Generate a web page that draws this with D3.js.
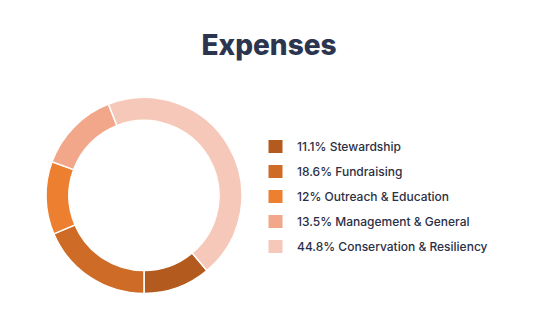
<!DOCTYPE html>
<html>
<head>
<meta charset="utf-8">
<script src="https://cdn.jsdelivr.net/npm/d3@7"></script>
<style>
  html, body { margin: 0; padding: 0; background: #ffffff; }
  svg { display: block; }
</style>
</head>
<body>
<svg id="chart" width="549" height="324"></svg>
<script>
// Expense breakdown (percent of total)
const categories = ["Stewardship", "Fundraising", "Outreach & Education", "Management & General", "Conservation & Resiliency"];
const values = [11.1, 18.6, 12, 13.5, 44.8];
const valueLabels = ["11.1%", "18.6%", "12%", "13.5%", "44.8%"];
const colors = ["#b35b1f", "#cd6b27", "#ec7f30", "#f2a68a", "#f6c8b9"];

const svg = d3.select("#chart");

svg.append("text")
  .attr("x", 269)
  .attr("y", 55)
  .attr("text-anchor", "middle")
  .attr("font-family", "Inter, 'Open Sans', sans-serif")
  .attr("font-weight", 800)
  .attr("font-size", 28)
  .attr("fill", "#2c3550")
  .text("Expenses");

const cx = 144, cy = 195.5, outerR = 98, innerR = 75;

// Slices run clockwise; the first one ends at six o'clock
const total = d3.sum(values);
const start = Math.PI - (values[0] / total) * 2 * Math.PI;
const pie = d3.pie().sort(null).startAngle(start).endAngle(start + 2 * Math.PI);
const arc = d3.arc().innerRadius(innerR).outerRadius(outerR);

const g = svg.append("g").attr("transform", `translate(${cx},${cy})`);
g.selectAll("path")
  .data(pie(values))
  .join("path")
  .attr("d", arc)
  .attr("fill", (d, i) => colors[i])
  .attr("stroke", "#ffffff")
  .attr("stroke-width", 1.5);

// Legend
const y = d3.scalePoint().domain(d3.range(categories.length)).range([146.5, 246.5]);
const legend = svg.append("g");
const rows = legend.selectAll("g")
  .data(categories)
  .join("g")
  .attr("transform", (d, i) => `translate(0,${y(i)})`);

rows.append("rect")
  .attr("x", 268.5)
  .attr("y", -6.5)
  .attr("width", 14)
  .attr("height", 13)
  .attr("fill", (d, i) => colors[i]);

rows.append("text")
  .attr("x", 297)
  .attr("y", 4.2)
  .attr("font-family", "Inter, 'Open Sans', sans-serif")
  .attr("font-weight", 500)
  .attr("font-size", 12)
  .attr("fill", "#2b2f45")
  .text((d, i) => `${valueLabels[i]} ${d}`);
</script>
</body>
</html>
